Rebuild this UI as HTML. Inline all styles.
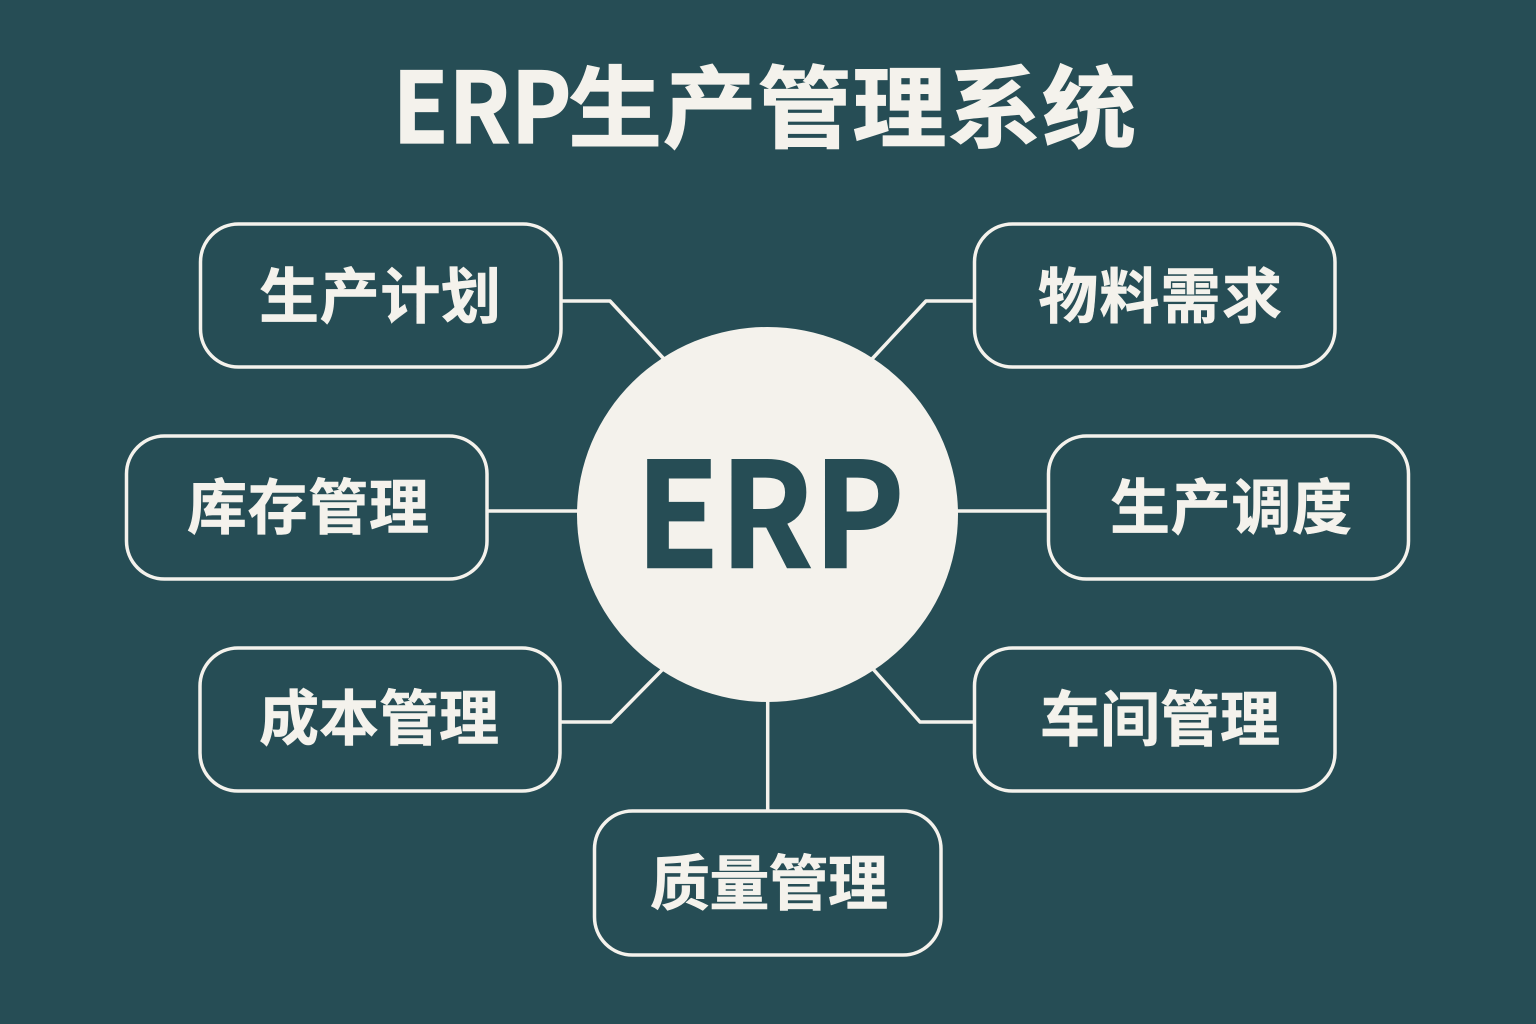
<!DOCTYPE html>
<html><head><meta charset="utf-8">
<style>
html,body{margin:0;padding:0;width:1536px;height:1024px;overflow:hidden;background:#264d55}
svg{display:block}
text{font-family:"Noto Sans CJK SC","Liberation Sans",sans-serif;font-weight:700}
</style></head><body>
<svg width="1536" height="1024" viewBox="0 0 1536 1024" xmlns="http://www.w3.org/2000/svg">
<rect width="1536" height="1024" fill="#264d55"/>
<g fill="none" stroke="#f4f2ec" stroke-width="3.5" stroke-linejoin="round">
<rect x="200.5" y="224" width="360.5" height="143" rx="38"/>
<rect x="974.5" y="224" width="360.5" height="143" rx="38"/>
<rect x="126.5" y="436" width="360.5" height="143" rx="38"/>
<rect x="1048.5" y="436" width="360" height="143" rx="38"/>
<rect x="200" y="648" width="360" height="143" rx="38"/>
<rect x="974.5" y="648" width="360.5" height="143" rx="38"/>
<rect x="594.5" y="811" width="346.5" height="144" rx="38"/>
<path d="M561 301H610L664 359"/>
<path d="M974 301H926L872 359"/>
<path d="M487 511H580"/>
<path d="M956 511H1048"/>
<path d="M560 722H611L663 669"/>
<path d="M974 722H920L873 669"/>
<path d="M767.7 700V811"/>
</g>
<ellipse cx="767.5" cy="514.5" rx="190.5" ry="187.5" fill="#f4f2ec"/>
<g fill="#f4f2ec" text-anchor="middle" stroke="#f4f2ec">
<text x="482" y="143" font-size="98" textLength="179" lengthAdjust="spacingAndGlyphs" stroke-width="1.2">ERP</text>
<text transform="translate(852 140.5) scale(1 .95)" x="0" y="0" font-size="94" textLength="568" stroke-width="1.2">生产管理系统</text>
<g font-size="60" stroke-width="0.6">
<text x="380" y="318" textLength="242">生产计划</text>
<text x="1160" y="318" textLength="244">物料需求</text>
<text x="308" y="529" textLength="242">库存管理</text>
<text x="1231" y="529" textLength="242">生产调度</text>
<text x="379" y="740" textLength="240">成本管理</text>
<text x="1160" y="741" textLength="240">车间管理</text>
<text x="769" y="905" textLength="238">质量管理</text>
</g>
</g>
<text transform="translate(770 567.5) scale(.914 .97)" x="0" y="0" font-size="150" fill="#264d55" stroke="#264d55" stroke-width="1.5" text-anchor="middle">ERP</text>
</svg>
</body></html>
